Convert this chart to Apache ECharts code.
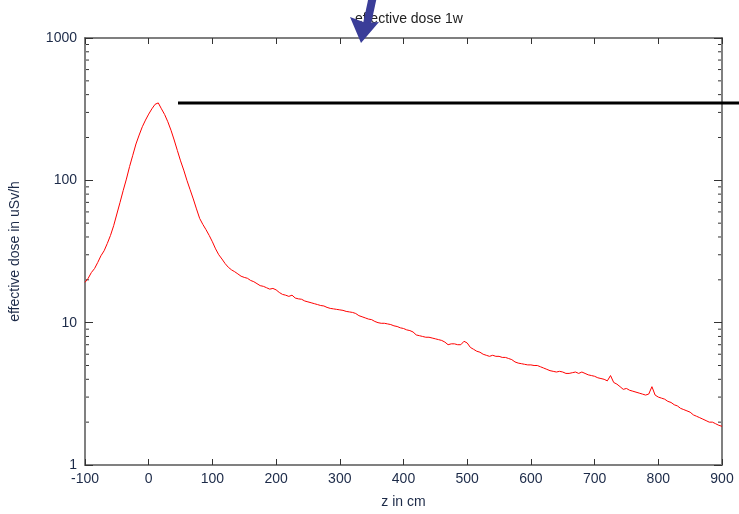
<!DOCTYPE html>
<html><head><meta charset="utf-8">
<script src="https://cdn.jsdelivr.net/npm/echarts@6/dist/echarts.min.js"></script>
<style>html,body{margin:0;padding:0;background:#fff}#c{width:739px;height:514px}</style>
</head><body><div id="c"></div>
<script>
var title = 'effective dose 1w';
var xName = 'z in cm';
var yName = 'effective dose in uSv/h';
var zStart = -100, zStep = 5;
var dose = [
19.2,20.5,22.5,24,26.5,29.5,32,36,41,48,
58,70,85,102,125,150,180,208,238,265,
292,318,342,350,318,290,258,225,192,162,
137,118,100,86,74,63,54,49,45,41,
37,33,30,28,26,24.5,23.5,22.8,22,21.2,
20.8,20.5,19.8,19.4,18.8,18.2,18,17.6,17.2,17.4,
17,16.3,15.8,15.6,15.3,15.6,14.9,14.7,14.6,14.2,
14,13.8,13.6,13.4,13.2,13.1,12.8,12.6,12.5,12.4,
12.3,12.2,12.0,11.9,11.8,11.6,11.2,11.0,10.8,10.6,
10.5,10.2,10.0,9.9,9.9,9.8,9.7,9.5,9.4,9.2,
9.1,8.9,8.8,8.6,8.2,8.1,8.0,7.9,7.9,7.8,
7.7,7.6,7.5,7.3,7.0,7.1,7.1,7.0,7.0,7.4,
7.2,6.7,6.5,6.3,6.2,6.0,5.9,5.8,5.9,5.8,
5.8,5.7,5.7,5.6,5.5,5.3,5.2,5.15,5.1,5.05,
5.05,5.0,5.0,4.9,4.8,4.7,4.6,4.55,4.5,4.55,
4.5,4.4,4.4,4.45,4.5,4.4,4.5,4.4,4.3,4.25,
4.2,4.1,4.05,4.0,3.9,4.25,3.8,3.7,3.55,3.4,
3.45,3.35,3.3,3.25,3.2,3.15,3.1,3.15,3.55,3.1,
3.0,2.95,2.9,2.8,2.75,2.65,2.6,2.5,2.45,2.4,
2.35,2.25,2.2,2.15,2.1,2.05,2.0,2.0,1.95,1.9,
1.87
];
var xTicks = [-100,0,100,200,300,400,500,600,700,800,900];
var yTicks = [1,10,100,1000];

var data = dose.map(function(v,i){return [zStart + i*zStep, v];});
var labelColor = '#1c2a48';
var axisGray = '#808080';
var chart = echarts.init(document.getElementById('c'), null, {renderer:'canvas'});
var font = 'Liberation Sans, Arial, sans-serif';
chart.setOption({
  animation:false,
  title:{text:title,left:404,top:7,textAlign:'center',textStyle:{fontFamily:font,fontSize:14,fontWeight:'normal',color:'#222'}},
  grid:{left:84,right:17,top:38,bottom:45},
  xAxis:[{
    type:'value',min:xTicks[0],max:xTicks[xTicks.length-1],interval:100,
    name:xName,nameLocation:'middle',nameGap:30,
    nameTextStyle:{fontFamily:font,fontSize:14,color:labelColor},
    axisLine:{onZero:false,lineStyle:{color:axisGray,width:2}},
    axisTick:{inside:true,length:6,lineStyle:{color:'#333'}},
    axisLabel:{fontFamily:font,fontSize:14,color:labelColor,margin:7},
    splitLine:{show:false}
  },{
    type:'value',position:'top',min:xTicks[0],max:xTicks[xTicks.length-1],interval:100,
    axisLine:{onZero:false,lineStyle:{color:'#555',width:1.5}},
    axisTick:{inside:true,length:6,lineStyle:{color:'#333'}},
    axisLabel:{show:false},splitLine:{show:false}
  }],
  yAxis:[{
    type:'log',logBase:10,min:1,max:1000,
    name:yName,nameLocation:'middle',nameGap:63,nameRotate:90,
    nameTextStyle:{fontFamily:font,fontSize:14,color:labelColor},
    axisLine:{onZero:false,lineStyle:{color:axisGray,width:2}},
    axisTick:{inside:true,length:8,lineStyle:{color:'#333'}},
    axisLabel:{fontFamily:font,fontSize:14,color:labelColor,margin:8,formatter:function(v){return String(Math.round(v));}},
    splitLine:{show:false}
  },{
    type:'log',logBase:10,min:1,max:1000,position:'right',
    axisLine:{onZero:false,lineStyle:{color:axisGray,width:2}},
    axisTick:{inside:true,length:8,lineStyle:{color:'#333'}},
    axisLabel:{show:false},splitLine:{show:false}
  }],
  series:[{
    type:'line',data:data,showSymbol:false,symbol:'none',
    lineStyle:{color:'#ff0000',width:1},xAxisIndex:0,yAxisIndex:0
  }]
});

// minor log ticks (2..9 in each decade) on left and right axes
var g = [];
var leftX = chart.convertToPixel({xAxisIndex:0}, xTicks[0]);
var rightX = chart.convertToPixel({xAxisIndex:0}, xTicks[xTicks.length-1]);
for (var d=0; d<yTicks.length-1; d++){
  for (var m=2; m<=9; m++){
    var py = chart.convertToPixel({yAxisIndex:0}, yTicks[d]*m);
    g.push({type:'line',shape:{x1:leftX,y1:py,x2:leftX+4,y2:py},style:{stroke:'#333',lineWidth:1}});
    g.push({type:'line',shape:{x1:rightX-4,y1:py,x2:rightX,y2:py},style:{stroke:'#333',lineWidth:1}});
  }
}
// annotations: black horizontal line and blue arrow
g.push({type:'line',shape:{x1:178,y1:103,x2:739,y2:103},style:{stroke:'#000',lineWidth:3},z:10});
g.push({type:'line',shape:{x1:373,y1:-4,x2:367,y2:24},style:{stroke:'#3a3d98',lineWidth:8},z:10});
g.push({type:'polygon',shape:{points:[[350,17],[361,43],[379,22],[366,23]]},style:{fill:'#3a3d98'},z:10});
chart.setOption({graphic:g});
</script></body></html>
